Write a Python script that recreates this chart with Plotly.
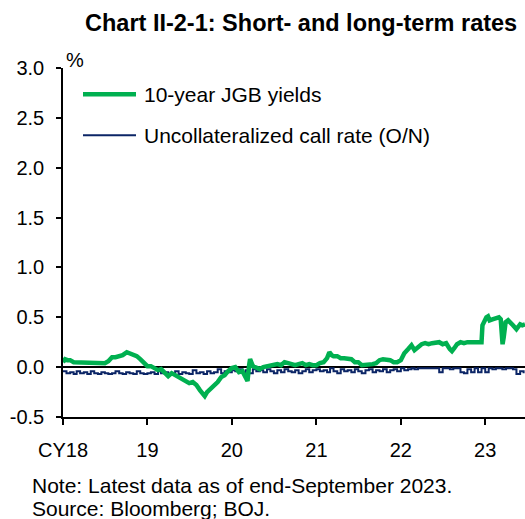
import plotly.graph_objects as go

FONT = "Liberation Sans, Arial, sans-serif"
GREEN = "#00B050"
NAVY = "#0B2566"

# 10-year JGB yields (%)
jgb_dates = [
    "2018-01-01", "2018-01-10", "2018-01-20", "2018-02-01", "2018-02-16", "2018-03-01", "2018-03-16",
    "2018-04-01", "2018-04-16", "2018-05-01", "2018-05-16", "2018-06-01", "2018-06-16", "2018-07-01",
    "2018-07-16", "2018-08-01", "2018-08-16", "2018-09-01", "2018-09-16", "2018-10-04", "2018-10-16",
    "2018-11-01", "2018-11-16", "2018-12-01", "2018-12-16",
    "2019-01-01", "2019-01-16", "2019-02-01", "2019-02-16", "2019-03-01", "2019-03-16", "2019-04-01",
    "2019-04-16", "2019-05-01", "2019-05-16", "2019-06-01", "2019-06-16", "2019-07-01", "2019-07-16",
    "2019-08-01", "2019-08-16", "2019-09-01", "2019-09-06", "2019-09-16", "2019-10-01", "2019-10-16",
    "2019-11-01", "2019-11-16", "2019-12-01", "2019-12-16",
    "2020-01-01", "2020-01-16", "2020-02-01", "2020-02-16", "2020-03-01", "2020-03-09", "2020-03-16",
    "2020-03-20", "2020-04-01", "2020-04-16", "2020-05-01", "2020-05-16", "2020-06-01", "2020-06-16",
    "2020-07-01", "2020-07-16", "2020-08-01", "2020-08-16", "2020-09-01", "2020-09-16", "2020-10-01",
    "2020-10-16", "2020-11-01", "2020-11-16", "2020-12-01", "2020-12-16",
    "2021-01-01", "2021-01-16", "2021-02-01", "2021-02-16", "2021-02-26", "2021-03-08", "2021-03-16",
    "2021-04-01", "2021-04-16", "2021-05-01", "2021-05-16", "2021-06-01", "2021-06-16", "2021-07-01",
    "2021-07-16", "2021-08-01", "2021-08-16", "2021-09-01", "2021-09-16", "2021-10-01", "2021-10-16",
    "2021-11-01", "2021-11-16", "2021-12-01", "2021-12-16",
    "2022-01-01", "2022-01-16", "2022-02-01", "2022-02-16", "2022-03-01", "2022-03-16", "2022-04-01",
    "2022-04-16", "2022-05-01", "2022-05-16", "2022-06-01", "2022-06-16", "2022-07-01", "2022-07-16",
    "2022-08-01", "2022-08-10", "2022-08-20", "2022-09-01", "2022-09-16", "2022-10-01", "2022-10-16",
    "2022-11-01", "2022-11-16", "2022-12-01", "2022-12-16", "2022-12-20", "2022-12-28",
    "2023-01-06", "2023-01-13", "2023-01-20", "2023-02-01", "2023-02-16", "2023-03-01", "2023-03-09",
    "2023-03-14", "2023-03-17", "2023-03-22", "2023-03-30", "2023-04-10", "2023-04-20", "2023-05-01",
    "2023-05-16", "2023-06-01", "2023-06-10", "2023-06-22",
]
jgb_values = [
    0.05, 0.08, 0.07, 0.07, 0.05, 0.05, 0.04,
    0.05, 0.04, 0.05, 0.05, 0.04, 0.04, 0.04,
    0.06, 0.10, 0.10, 0.11, 0.12, 0.15, 0.14,
    0.12, 0.11, 0.08, 0.04,
    0.01, 0.01, -0.01, -0.03, -0.02, -0.06, -0.09,
    -0.06, -0.08, -0.11, -0.12, -0.15, -0.16, -0.15,
    -0.18, -0.23, -0.28, -0.29, -0.25, -0.22, -0.18,
    -0.15, -0.10, -0.08, -0.04,
    -0.01, 0.00, -0.05, -0.04, -0.10, -0.14, 0.02,
    0.08, 0.01, 0.00, -0.02, 0.00, 0.01, 0.02,
    0.03, 0.03, 0.02, 0.05, 0.04, 0.03, 0.02,
    0.03, 0.04, 0.02, 0.03, 0.02,
    0.02, 0.04, 0.05, 0.09, 0.15, 0.12, 0.11,
    0.11, 0.09, 0.09, 0.08, 0.08, 0.05, 0.05,
    0.02, 0.02, 0.02, 0.03, 0.04, 0.07, 0.08,
    0.08, 0.07, 0.05, 0.05,
    0.07, 0.14, 0.18, 0.22, 0.17, 0.20, 0.23,
    0.24, 0.23, 0.24, 0.24, 0.25, 0.23, 0.24,
    0.18, 0.16, 0.19, 0.23, 0.25, 0.24, 0.25,
    0.25, 0.25, 0.25, 0.25, 0.42, 0.46,
    0.50, 0.51, 0.47, 0.48, 0.49, 0.50, 0.48,
    0.28, 0.23, 0.30, 0.45, 0.47, 0.45, 0.42,
    0.38, 0.43, 0.42, 0.43,
]

# Uncollateralized overnight call rate (%), semi-monthly observations
call_dates = [f"{y}-{m:02d}-{d:02d}" for y in range(2018, 2024) for m in range(1, 13)
              for d in (1, 16) if (y, m) <= (2023, 6)]
call_values = [
    # 2018
    -0.04, -0.06, -0.05, -0.07, -0.04, -0.06, -0.05, -0.07, -0.04, -0.06, -0.07, -0.05,
    -0.06, -0.07, -0.06, -0.04, -0.06, -0.07, -0.05, -0.06, -0.07, -0.04, -0.06, -0.07,
    # 2019
    -0.06, -0.05, -0.07, -0.04, -0.06, -0.05, -0.07, -0.06, -0.04, -0.07, -0.05, -0.06,
    -0.07, -0.03, -0.06, -0.05, -0.07, -0.04, -0.06, -0.05, -0.02, -0.06, -0.04, -0.05,
    # 2020
    -0.03, -0.04, -0.02, -0.05, -0.03, -0.06, -0.02, -0.04, -0.03, -0.05, -0.02, -0.04,
    -0.06, -0.03, -0.05, -0.02, -0.04, -0.05, -0.03, -0.06, -0.04, -0.02, -0.05, -0.03,
    # 2021
    -0.02, -0.04, -0.03, -0.05, -0.01, -0.04, -0.06, -0.02, -0.04, -0.03, -0.05, -0.02,
    -0.04, -0.06, -0.03, -0.02, -0.05, -0.03, -0.04, -0.02, -0.05, -0.03, -0.02, -0.04,
    # 2022
    -0.01, -0.03, -0.02, -0.01, -0.02, -0.01, -0.01, -0.01, -0.01, -0.01, -0.01, -0.05,
    -0.01, -0.01, -0.02, -0.01, -0.01, -0.05, -0.06, -0.02, -0.05, -0.01, -0.05, -0.01,
    # 2023
    -0.05, -0.01, -0.02, -0.01, -0.01, -0.02, -0.01, -0.01, -0.02, -0.07, -0.04, -0.06,
]

x_tick_dates = ["2018-01-01", "2019-01-01", "2020-01-01", "2021-01-01", "2022-01-01", "2023-01-01"]
x_tick_labels = ["CY18", "19", "20", "21", "22", "23"]
y_tick_values = [-0.5, 0.0, 0.5, 1.0, 1.5, 2.0, 2.5, 3.0]
y_tick_labels = ["-0.5", "0.0", "0.5", "1.0", "1.5", "2.0", "2.5", "3.0"]

series_names = ["10-year JGB yields", "Uncollateralized call rate (O/N)"]
title_text = "Chart II-2-1: Short- and long-term rates"
notes = ["Note: Latest data as of end-September 2023.", "Source: Bloomberg; BOJ."]

fig = go.Figure()
fig.add_trace(go.Scatter(x=call_dates, y=call_values, mode="lines", name=series_names[1],
                         line=dict(color=NAVY, width=2, shape="hv")))
fig.add_trace(go.Scatter(x=jgb_dates, y=jgb_values, mode="lines", name=series_names[0],
                         line=dict(color=GREEN, width=4.5)))

# plot area in page pixels: x 63..525, y 68..417
L, R, T, B = 63, 525, 68, 417


def px(xp):
    return (xp - L) / (R - L)


def py(yp):
    return (B - yp) / (B - T)


fig.update_layout(
    width=525, height=519, autosize=False,
    margin=dict(l=L, r=525 - R, t=T, b=519 - B),
    paper_bgcolor="white", plot_bgcolor="white",
    showlegend=False,
    font=dict(family=FONT, size=20, color="black"),
)
fig.update_xaxes(
    type="date", range=["2018-01-01", "2023-06-22"],
    tickvals=x_tick_dates, ticktext=x_tick_labels,
    ticks="outside", ticklen=6, tickwidth=1.5, tickcolor="black",
    showline=True, linecolor="black", linewidth=1.5,
    showgrid=False, zeroline=False,
    tickfont=dict(family=FONT, size=20, color="black"),
    ticklabelstandoff=8,
)
fig.update_yaxes(
    range=[-0.5, 3.0],
    tickvals=y_tick_values, ticktext=y_tick_labels,
    ticks="outside", ticklen=5, tickwidth=1.5, tickcolor="black",
    showline=True, linecolor="black", linewidth=1.5,
    showgrid=False, zeroline=True, zerolinecolor="black", zerolinewidth=2,
    tickfont=dict(family=FONT, size=20, color="black"),
    ticklabelstandoff=8,
)

# legend drawn manually
legend_rows = [(94.3, GREEN, 4.5, series_names[0]), (135.3, NAVY, 2, series_names[1])]
for ypx, col, w, name in legend_rows:
    fig.add_shape(type="line", xref="paper", yref="paper", x0=px(83), x1=px(136), y0=py(ypx), y1=py(ypx),
                  line=dict(color=col, width=w))
    fig.add_annotation(xref="paper", yref="paper", x=px(142), y=py(ypx), text=name, showarrow=False,
                       xanchor="left", yanchor="middle", font=dict(family=FONT, size=21, color="black"))

fig.add_annotation(xref="paper", yref="paper", x=px(301), y=py(23), text="<b>" + title_text + "</b>",
                   showarrow=False, xanchor="center", yanchor="middle",
                   font=dict(family=FONT, size=23.5, color="black"))
fig.add_annotation(xref="paper", yref="paper", x=px(64), y=py(60), text="%",
                   showarrow=False, xanchor="left", yanchor="middle",
                   font=dict(family=FONT, size=20, color="black"))
for txt, ypx in zip(notes, [485, 508]):
    fig.add_annotation(xref="paper", yref="paper", x=px(30), y=py(ypx), text=txt,
                       showarrow=False, xanchor="left", yanchor="middle",
                       font=dict(family=FONT, size=21, color="black"))

fig.write_html("out.html", config={"displayModeBar": False},
               post_script="document.body.style.margin='0';document.body.style.overflow='hidden';")
